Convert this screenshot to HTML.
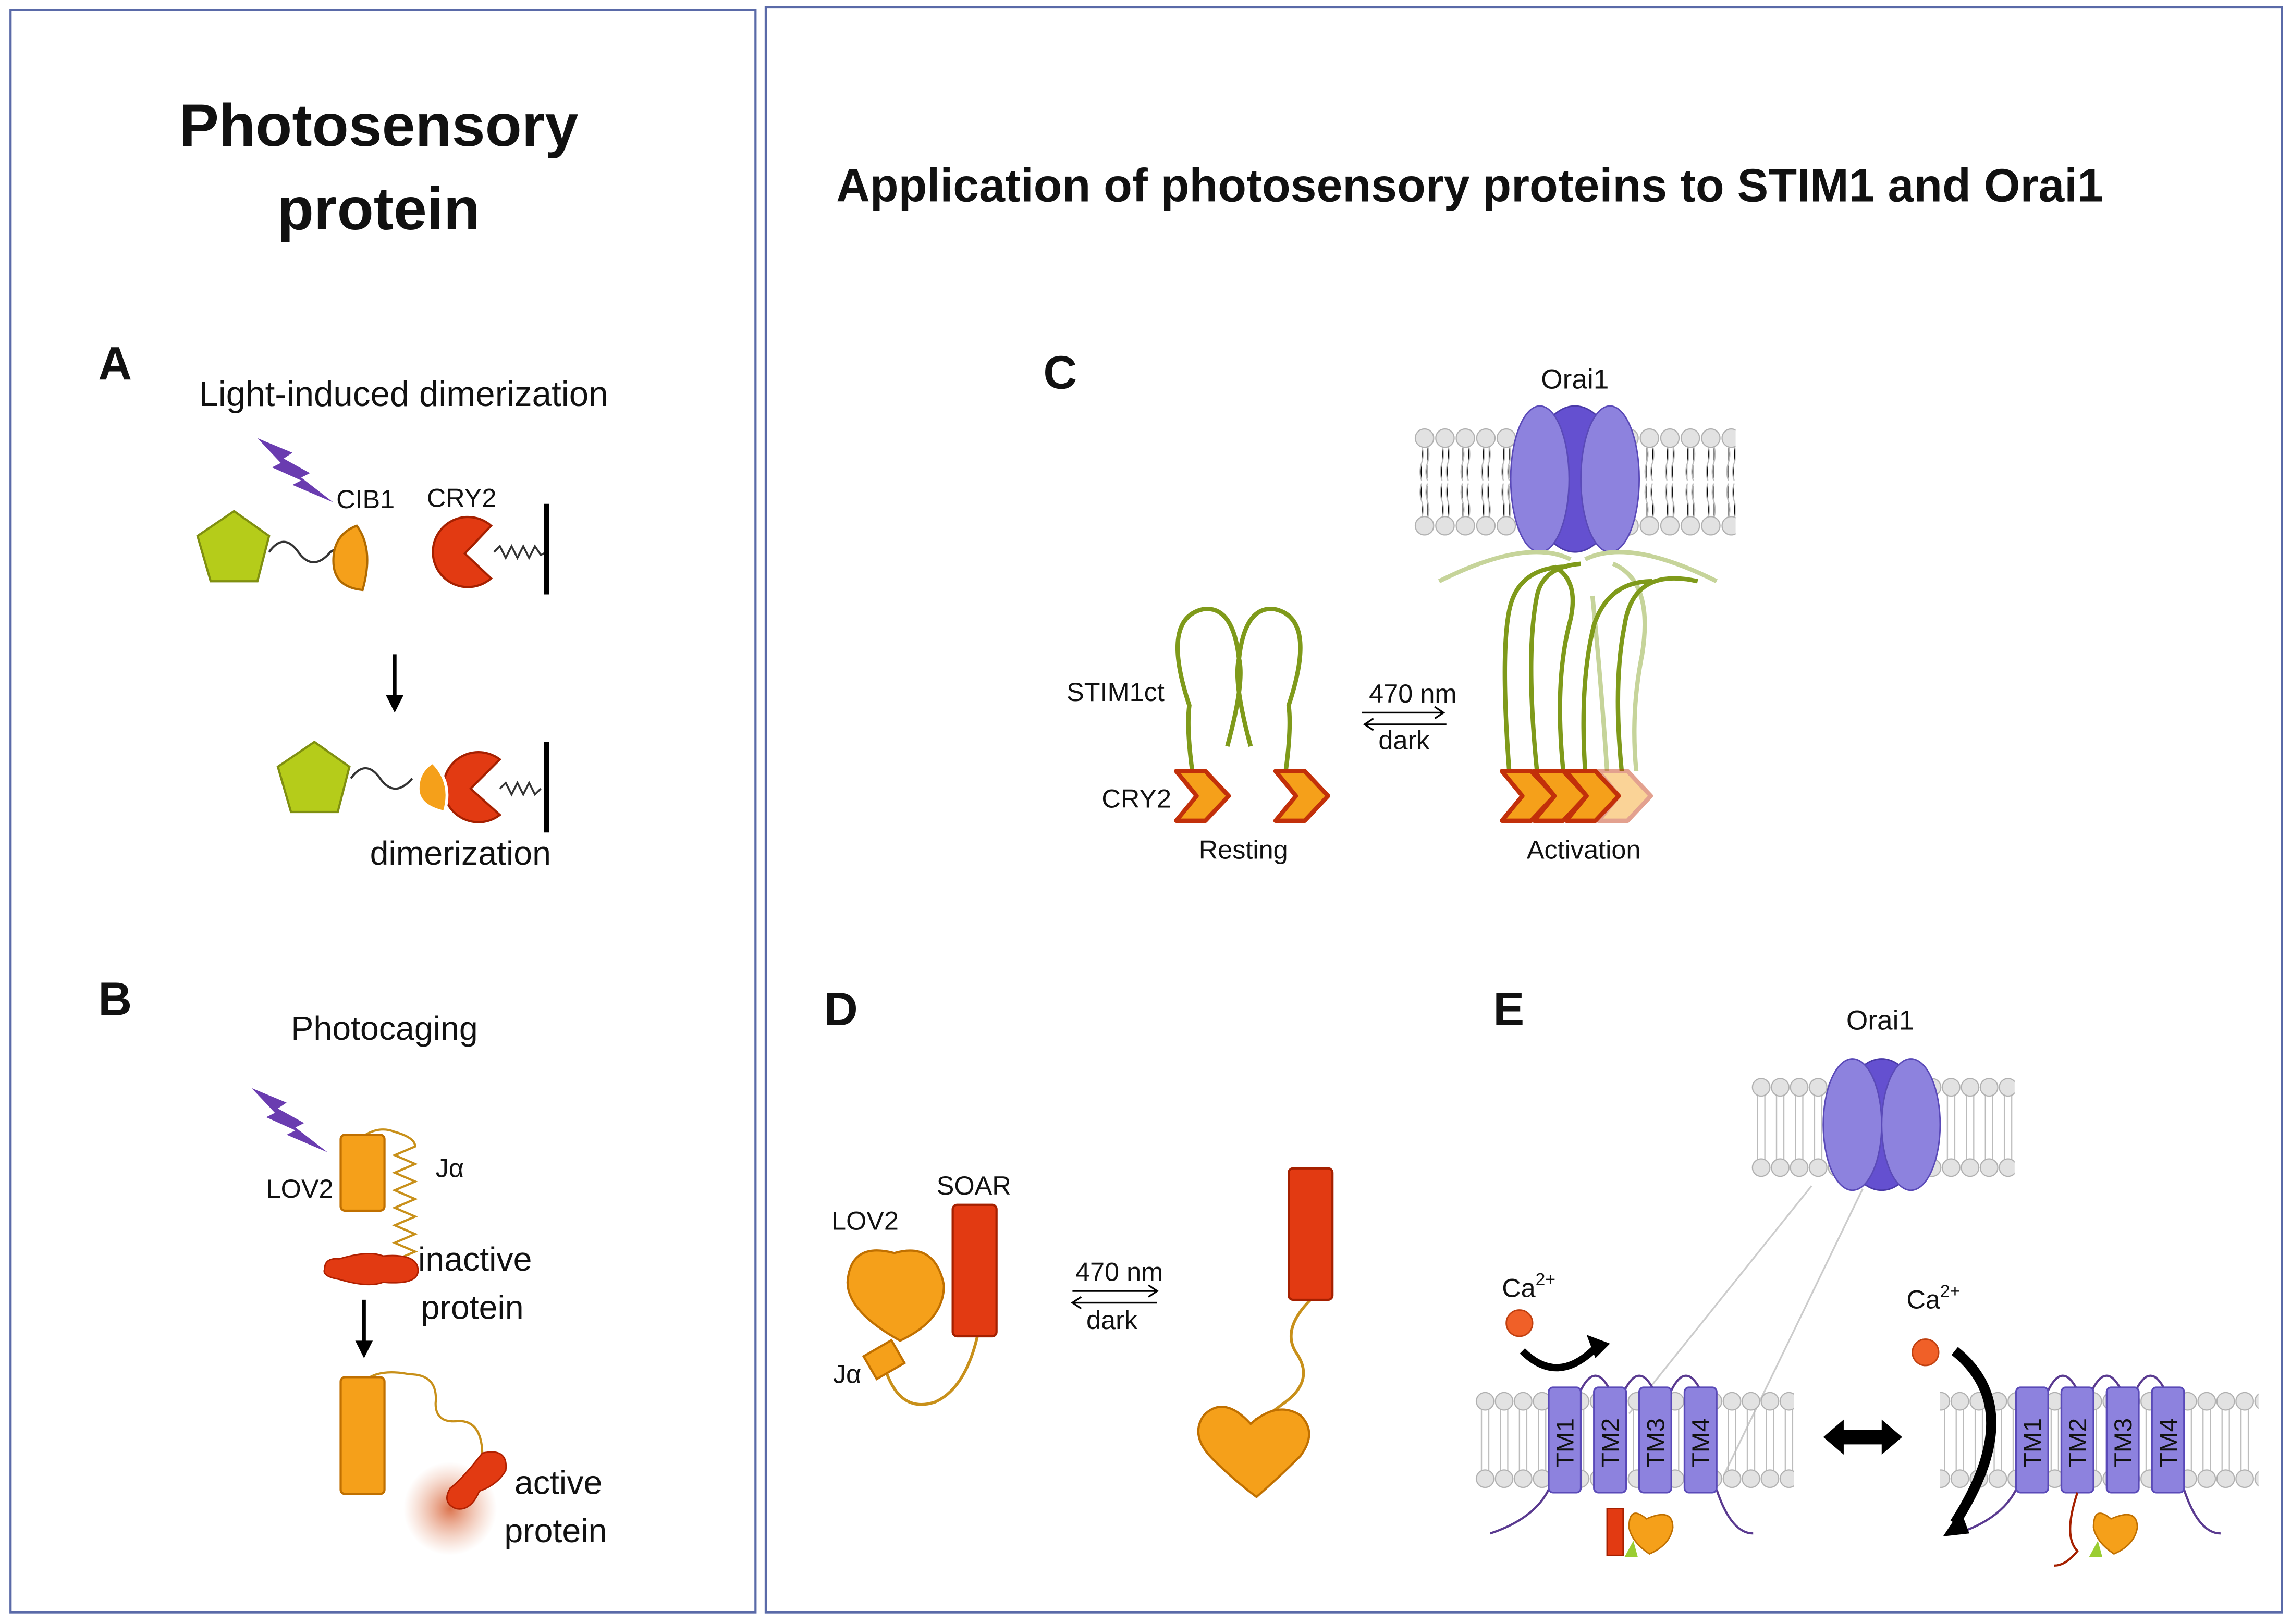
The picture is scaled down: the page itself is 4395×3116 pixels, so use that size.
<!DOCTYPE html>
<html><head><meta charset="utf-8"><style>
html,body{margin:0;padding:0;background:#fff}
svg{display:block}
text{font-family:"Liberation Sans","DejaVu Sans",sans-serif;fill:#111}
</style></head><body>
<svg width="4395" height="3116" viewBox="0 0 1568 1112" xmlns="http://www.w3.org/2000/svg">
<defs>
<pattern id="lipC" patternUnits="userSpaceOnUse" x="968" y="293" width="14" height="74">
<g stroke="#bbb" stroke-width="0.8"><path d="M5 12 q2 6 0 12 q-2 6 0 12 M9 12 q2 6 0 12 q-2 6 0 12 M5 62 q2-6 0-12 q-2-6 0-12 M9 62 q2-6 0-12 q-2-6 0-12"/></g>
<circle cx="7" cy="7" r="6.3" fill="#e2e2e2" stroke="#b0b0b0" stroke-width="0.8"/><circle cx="7" cy="67" r="6.3" fill="#e2e2e2" stroke="#b0b0b0" stroke-width="0.8"/>
</pattern>
<pattern id="lipE1" patternUnits="userSpaceOnUse" x="1199" y="738" width="13" height="68">
<g stroke="#bbb" stroke-width="0.8"><path d="M4 12 v44 M9 12 v44"/></g>
<circle cx="6.5" cy="6.5" r="6" fill="#e2e2e2" stroke="#b0b0b0" stroke-width="0.8"/><circle cx="6.5" cy="61.5" r="6" fill="#e2e2e2" stroke="#b0b0b0" stroke-width="0.8"/>
</pattern>
<pattern id="lipE2" patternUnits="userSpaceOnUse" x="1010" y="953" width="13" height="66">
<g stroke="#bbb" stroke-width="0.8"><path d="M4 12 v42 M9 12 v42"/></g>
<circle cx="6.5" cy="6.5" r="6" fill="#e2e2e2" stroke="#b0b0b0" stroke-width="0.8"/><circle cx="6.5" cy="59.5" r="6" fill="#e2e2e2" stroke="#b0b0b0" stroke-width="0.8"/>
</pattern>
<radialGradient id="glow"><stop offset="0" stop-color="#d8643a" stop-opacity="0.9"/><stop offset="1" stop-color="#e8a080" stop-opacity="0"/></radialGradient>
<g id="chev"><path d="M0 -17 L20 -17 L36 0 L20 17 L0 17 L14 0 Z" fill="#f5a01a" stroke="#c2300a" stroke-width="3" stroke-linejoin="round"/></g>
<g id="bolt"><path d="M0 0 L24 10 L18 14 L36 24 L30 27 L52 44 L24 32 L30 29 L10 20 L16 17 Z" fill="#6a3cb0"/></g>
</defs>
<rect width="1568" height="1112" fill="#fff"/>
<rect x="7" y="7" width="510" height="1097" fill="none" stroke="#5a6aa8" stroke-width="1.5"/>
<rect x="524" y="5" width="1038" height="1099" fill="none" stroke="#5a6aa8" stroke-width="1.5"/>

<text x="259" y="100" font-size="41" font-weight="bold" text-anchor="middle">Photosensory</text>
<text x="259" y="157" font-size="41" font-weight="bold" text-anchor="middle">protein</text>
<text x="1006" y="138" font-size="32" font-weight="bold" text-anchor="middle">Application of photosensory proteins to STIM1 and Orai1</text>

<!-- A -->
<text x="67" y="260" font-size="32" font-weight="bold">A</text>
<text x="276" y="278" font-size="24" text-anchor="middle">Light-induced dimerization</text>
<use href="#bolt" x="176" y="300"/>
<polygon points="160,350 184,367 176,398 144,398 135,367" fill="#b5cc1a" stroke="#7f8f10" stroke-width="1.5"/>
<path d="M184 378 q10 -14 20 0 q10 14 22 0 q6 -4 8 -2" fill="none" stroke="#333" stroke-width="1.5"/>
<path d="M244 360 q12 16 4 44 q-20 -2 -20 -20 q0 -18 16 -24 z" fill="#f5a01a" stroke="#b06a00" stroke-width="1.5"/>
<text x="230" y="348" font-size="18">CIB1</text>
<text x="292" y="347" font-size="18">CRY2</text>
<path d="M336 360 A24 24 0 1 0 336 396 L318 379 Z" fill="#e23a12" stroke="#a52000" stroke-width="1.5"/>
<path d="M338 378 l4 -4 4 8 4 -8 4 8 4 -8 4 8 4 -8 4 6 l4 -2" fill="none" stroke="#333" stroke-width="1.3"/>
<line x1="374" y1="345" x2="374" y2="407" stroke="#000" stroke-width="3.5"/>
<line x1="270" y1="448" x2="270" y2="480" stroke="#000" stroke-width="2.5"/><path d="M264 476 L270 488 L276 476 Z"/>
<polygon points="215,508 239,525 231,556 199,556 190,525" fill="#b5cc1a" stroke="#7f8f10" stroke-width="1.5"/>
<path d="M240 533 q10 -14 20 0 q10 14 22 0" fill="none" stroke="#333" stroke-width="1.5"/>
<path d="M342 520 A24 24 0 1 0 342 558 L322 540 Z" fill="#e23a12" stroke="#a52000" stroke-width="1.5"/>
<path d="M296 522 q14 14 8 34 q-18 -4 -18 -16 q0 -12 10 -18 z" fill="#f5a01a" stroke="#fff" stroke-width="2"/>
<path d="M342 540 l4 -4 4 8 4 -8 4 8 4 -8 4 8 4 -4" fill="none" stroke="#333" stroke-width="1.3"/>
<line x1="374" y1="508" x2="374" y2="570" stroke="#000" stroke-width="3.5"/>
<text x="315" y="592" font-size="23" text-anchor="middle">dimerization</text>

<!-- B -->
<text x="67" y="695" font-size="32" font-weight="bold">B</text>
<text x="263" y="712" font-size="23" text-anchor="middle">Photocaging</text>
<use href="#bolt" x="172" y="745"/>
<path d="M250 777 q10 -6 20 -2 q14 4 14 10 l-14 6 14 6 -14 6 14 6 -14 6 14 6 -14 6 14 6 -14 6 14 6 -14 6 14 6 -14 6 14 6 -10 6" fill="none" stroke="#c8901a" stroke-width="1.5"/>
<rect x="233" y="777" width="30" height="52" rx="3" fill="#f5a01a" stroke="#c07000" stroke-width="1.5"/>
<path d="M232 862 q20 -6 30 -2 q24 -2 24 10 q0 10 -24 8 q-10 4 -30 -2 q-12 -2 -10 -7 q0 -8 10 -7 z" fill="#e23a12" stroke="#b02000" stroke-width="1"/>
<text x="182" y="820" font-size="18">LOV2</text>
<text x="298" y="806" font-size="18">Jα</text>
<text x="286" y="870" font-size="23">inactive</text>
<text x="288" y="903" font-size="23">protein</text>
<line x1="249" y1="890" x2="249" y2="922" stroke="#000" stroke-width="2.5"/><path d="M243 918 L249 930 L255 918 Z"/>
<circle cx="308" cy="1033" r="32" fill="url(#glow)"/>
<path d="M250 945 q10 -8 30 -4 q20 0 18 20 q0 14 16 12 q16 0 16 24" fill="none" stroke="#c8901a" stroke-width="1.5"/>
<rect x="233" y="943" width="30" height="80" rx="3" fill="#f5a01a" stroke="#c07000" stroke-width="1.5"/>
<path d="M330 995 q18 -4 16 12 q-6 10 -18 14 q-6 14 -16 12 q-10 -4 -4 -14 q8 -6 22 -24 z" fill="#e23a12" stroke="#b02000" stroke-width="1"/>
<text x="352" y="1023" font-size="23">active</text>
<text x="345" y="1056" font-size="23">protein</text>

<!-- C -->
<text x="714" y="266" font-size="32" font-weight="bold">C</text>
<text x="1078" y="266" font-size="19" text-anchor="middle">Orai1</text>
<rect x="968" y="293" width="220" height="74" fill="url(#lipC)"/>
<ellipse cx="1078" cy="328" rx="30" ry="50" fill="#6450d0" stroke="#4a3aa8" stroke-width="1"/>
<ellipse cx="1054" cy="328" rx="20" ry="50" fill="#8d82de" stroke="#5a4ab8" stroke-width="1"/>
<ellipse cx="1102" cy="328" rx="20" ry="50" fill="#8d82de" stroke="#5a4ab8" stroke-width="1"/>
<g fill="none" stroke-width="3">
<g stroke="#c6d49a">
<path d="M985 398 q60 -30 90 -15 M1175 398 q-60 -30 -90 -15 M1120 528 q-4 -40 4 -80 q8 -50 -20 -62 M1100 528 q-4 -60 -10 -120"/>
</g>
<g stroke="#7f9a1a">
<path d="M1033 528 q-6 -80 0 -110 q6 -30 40 -30 M1052 528 q-8 -80 0 -120 q4 -20 30 -22 M1070 528 q-6 -60 4 -100 q8 -30 -10 -40 M1085 528 q-4 -60 6 -100 q10 -30 40 -30 M1110 528 q-6 -60 2 -100 q6 -40 50 -30"/>
<path d="M816 528 q-4 -30 -2 -45 q-20 -60 10 -66 q20 -2 24 34 q4 16 -8 60 M880 528 q4 -30 2 -45 q20 -60 -10 -66 q-20 -2 -24 34 q-4 16 8 60"/>
</g></g>
<use href="#chev" x="805" y="545"/><use href="#chev" x="873" y="545"/>
<use href="#chev" x="1028" y="545"/><use href="#chev" x="1050" y="545"/><use href="#chev" x="1072" y="545"/>
<g opacity="0.45"><use href="#chev" x="1094" y="545"/></g>
<text x="730" y="480" font-size="18">STIM1ct</text>
<text x="754" y="553" font-size="18">CRY2</text>
<text x="851" y="588" font-size="18" text-anchor="middle">Resting</text>
<text x="1084" y="588" font-size="18" text-anchor="middle">Activation</text>
<text x="967" y="481" font-size="18" text-anchor="middle">470 nm</text>
<path d="M932 488 H988 M982 484 L988 488 L982 492 M934 496 H990 M940 492 L934 496 L940 500" stroke="#000" stroke-width="1.2" fill="none"/>
<text x="961" y="513" font-size="18" text-anchor="middle">dark</text>

<!-- D -->
<text x="564" y="702" font-size="32" font-weight="bold">D</text>
<text x="569" y="842" font-size="18">LOV2</text>
<text x="641" y="818" font-size="18">SOAR</text>
<text x="570" y="947" font-size="18">Jα</text>
<path d="M606 938 q10 30 34 22 q22 -10 30 -50" fill="none" stroke="#c8901a" stroke-width="2"/>
<rect x="652" y="825" width="30" height="90" rx="3" fill="#e23a12" stroke="#a52000" stroke-width="1.5"/>
<path d="M612 858 q-30 -8 -32 20 q0 20 36 40 q30 -14 30 -38 q-6 -30 -34 -22 z" fill="#f5a01a" stroke="#c07000" stroke-width="1.5"/>
<rect x="594" y="922" width="22" height="18" transform="rotate(-30 605 931)" fill="#f5a01a" stroke="#c07000" stroke-width="1.5"/>
<text x="766" y="877" font-size="18" text-anchor="middle">470 nm</text>
<path d="M734 884 H792 M786 880 L792 884 L786 888 M734 892 H792 M740 888 L734 892 L740 896" stroke="#000" stroke-width="1.2" fill="none"/>
<text x="761" y="910" font-size="18" text-anchor="middle">dark</text>
<path d="M897 890 q-20 20 -10 36 q14 20 -10 36 q-10 8 -18 10" fill="none" stroke="#c8901a" stroke-width="2"/>
<rect x="882" y="800" width="30" height="90" rx="3" fill="#e23a12" stroke="#a52000" stroke-width="1.5"/>
<path d="M856 975 q-18 -20 -32 -6 q-10 14 6 30 q14 14 30 26 q16 -14 30 -28 q12 -16 0 -28 q-16 -10 -34 6 z" fill="#f5a01a" stroke="#c07000" stroke-width="1.5"/>

<!-- E -->
<text x="1022" y="702" font-size="32" font-weight="bold">E</text>
<text x="1287" y="705" font-size="19" text-anchor="middle">Orai1</text>
<rect x="1199" y="738" width="180" height="68" fill="url(#lipE1)"/>
<ellipse cx="1288" cy="770" rx="28" ry="45" fill="#6450d0" stroke="#4a3aa8"/>
<ellipse cx="1268" cy="770" rx="20" ry="45" fill="#8d82de" stroke="#5a4ab8"/>
<ellipse cx="1308" cy="770" rx="20" ry="45" fill="#8d82de" stroke="#5a4ab8"/>
<path d="M1240 812 L1115 968 M1275 814 L1180 1010" stroke="#ccc" stroke-width="1.2"/>
<rect x="1010" y="953" width="218" height="66" fill="url(#lipE2)"/>
<rect x="1328" y="953" width="218" height="66" fill="url(#lipE2)"/>
<path d="M1020 1050 q30 -10 40 -30 M1082 952 q10 -20 20 0 M1112 952 q10 -20 20 0 M1144 952 q10 -20 20 0 M1175 1020 q10 30 25 30" fill="none" stroke="#5a3a90" stroke-width="1.5"/>
<path d="M1340 1050 q30 -10 40 -30 M1402 952 q10 -20 20 0 M1432 952 q10 -20 20 0 M1462 952 q10 -20 20 0 M1495 1020 q10 30 25 30" fill="none" stroke="#5a3a90" stroke-width="1.5"/>
<g fill="#8d82de" stroke="#5a4ab8" stroke-width="1.2">
<rect x="1060" y="950" width="22" height="72" rx="3"/><rect x="1091" y="950" width="22" height="72" rx="3"/><rect x="1122" y="950" width="22" height="72" rx="3"/><rect x="1153" y="950" width="22" height="72" rx="3"/>
<rect x="1380" y="950" width="22" height="72" rx="3"/><rect x="1411" y="950" width="22" height="72" rx="3"/><rect x="1442" y="950" width="22" height="72" rx="3"/><rect x="1473" y="950" width="22" height="72" rx="3"/>
</g>
<g font-size="17">
<text transform="translate(1077 1005) rotate(-90)">TM1</text><text transform="translate(1108 1005) rotate(-90)">TM2</text><text transform="translate(1139 1005) rotate(-90)">TM3</text><text transform="translate(1170 1005) rotate(-90)">TM4</text>
<text transform="translate(1397 1005) rotate(-90)">TM1</text><text transform="translate(1428 1005) rotate(-90)">TM2</text><text transform="translate(1459 1005) rotate(-90)">TM3</text><text transform="translate(1490 1005) rotate(-90)">TM4</text>
</g>
<rect x="1100" y="1033" width="11" height="32" fill="#e23a12" stroke="#a52000"/>
<path d="M1127 1040 q-12 -10 -12 6 q2 10 14 18 q14 -6 16 -18 q0 -14 -18 -6 z" fill="#f5a01a" stroke="#c07000"/>
<polygon points="1112,1066 1118,1055 1121,1066" fill="#9acd32"/>
<path d="M1422 1022 q-10 30 0 40 q-8 10 -16 10" fill="none" stroke="#a52000" stroke-width="1.5"/>
<path d="M1445 1040 q-12 -10 -12 6 q2 10 14 18 q14 -6 16 -18 q0 -14 -18 -6 z" fill="#f5a01a" stroke="#c07000"/>
<polygon points="1430,1066 1436,1055 1439,1066" fill="#9acd32"/>
<text x="1028" y="888" font-size="18">Ca<tspan font-size="12" dy="-8">2+</tspan></text>
<text x="1305" y="896" font-size="18">Ca<tspan font-size="12" dy="-8">2+</tspan></text>
<circle cx="1040" cy="906" r="9" fill="#f06028" stroke="#c04010"/>
<circle cx="1318" cy="926" r="9" fill="#f06028" stroke="#c04010"/>
<path d="M1042 925 q24 24 50 -2" fill="none" stroke="#000" stroke-width="5"/><path d="M1086 914 L1102 920 L1092 930 Z"/>
<path d="M1338 925 q50 40 0 118" fill="none" stroke="#000" stroke-width="7"/><path d="M1330 1052 L1342 1034 L1348 1050 Z"/>
<path d="M1248 984 L1262 972 V979 H1288 V972 L1302 984 L1288 996 V989 H1262 V996 Z" fill="#000"/>
</svg>
</body></html>
